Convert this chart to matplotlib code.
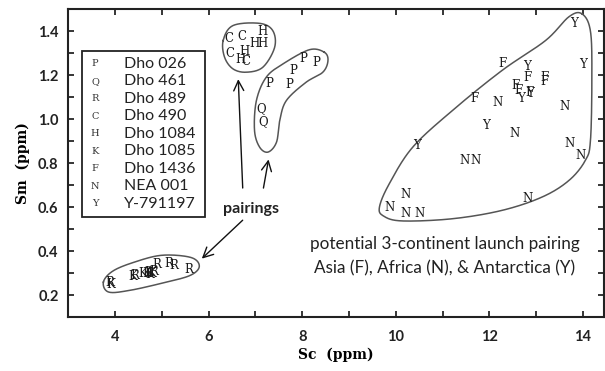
import numpy as np
import matplotlib
matplotlib.use('Agg')
import matplotlib.pyplot as plt
from matplotlib.patches import Rectangle

# ---------------- data ----------------
codes = ['P', 'Q', 'R', 'C', 'H', 'K', 'F', 'N', 'Y']
names = ['Dho 026', 'Dho 461', 'Dho 489', 'Dho 490', 'Dho 1084',
         'Dho 1085', 'Dho 1436', 'NEA 001', 'Y-791197']

P_sc = [7.30, 7.72, 7.80, 8.02, 8.31]
P_sm = [1.162, 1.160, 1.220, 1.278, 1.257]
Q_sc = [7.12, 7.17]
Q_sm = [1.047, 0.988]
R_sc = [3.89, 4.42, 4.72, 4.82, 4.90, 5.14, 5.25, 5.57]
R_sm = [0.256, 0.290, 0.305, 0.310, 0.338, 0.345, 0.337, 0.318]
C_sc = [6.43, 6.71, 6.46, 6.80]
C_sm = [1.368, 1.377, 1.300, 1.261]
H_sc = [7.14, 6.98, 7.14, 6.77, 6.68]
H_sm = [1.400, 1.343, 1.343, 1.307, 1.271]
K_sc = [3.91, 4.38, 4.60, 4.68, 4.75, 4.78]
K_sm = [0.248, 0.285, 0.300, 0.297, 0.295, 0.300]
F_sc = [11.69, 12.28, 12.81, 13.18, 13.18, 12.56, 12.62, 12.86]
F_sm = [1.093, 1.254, 1.190, 1.190, 1.170, 1.155, 1.130, 1.120]
N_sc = [12.17, 13.61, 12.54, 13.71, 13.94, 11.46, 11.71, 10.20, 9.86, 10.20, 10.50, 12.81]
N_sm = [1.078, 1.058, 0.934, 0.892, 0.836, 0.813, 0.813, 0.659, 0.598, 0.574, 0.574, 0.639]
Y_sc = [13.80, 14.01, 12.81, 12.67, 12.86, 11.92, 10.46]
Y_sm = [1.437, 1.249, 1.241, 1.093, 1.115, 0.972, 0.881]

series = {
    'P': (P_sc, P_sm), 'Q': (Q_sc, Q_sm), 'R': (R_sc, R_sm),
    'C': (C_sc, C_sm), 'H': (H_sc, H_sm), 'K': (K_sc, K_sm),
    'F': (F_sc, F_sm), 'N': (N_sc, N_sm), 'Y': (Y_sc, Y_sm),
}

# hand-drawn group outlines (annotation shapes, data coords)
outline_R = [(3.75, 0.26), (3.86, 0.215), (4.3, 0.222), (5.0, 0.255), (5.6, 0.29),
             (5.8, 0.332), (5.62, 0.372), (5.0, 0.382), (4.4, 0.35), (3.95, 0.31)]
outline_CH = [(6.31, 1.358), (6.52, 1.426), (7.09, 1.436), (7.37, 1.403), (7.41, 1.327),
              (7.16, 1.237), (6.81, 1.214), (6.52, 1.229), (6.34, 1.282)]
outline_PQ = [(8.47, 1.305), (8.15, 1.316), (7.59, 1.252), (7.23, 1.191), (7.02, 1.085),
              (6.98, 0.949), (7.09, 0.873), (7.27, 0.851), (7.45, 0.896), (7.52, 0.995),
              (7.66, 1.085), (8.08, 1.168), (8.44, 1.214), (8.55, 1.267)]
outline_big = [(13.98, 1.479), (14.16, 1.40), (14.19, 1.19), (14.16, 0.904), (14.05, 0.813),
               (13.70, 0.722), (13.13, 0.647), (12.27, 0.586), (11.21, 0.548), (10.14, 0.538),
               (9.74, 0.560), (9.65, 0.601), (9.86, 0.707), (10.36, 0.873), (11.21, 1.040),
               (12.27, 1.222), (13.20, 1.358), (13.70, 1.466)]


def closed_spline(pts, n=30):
    p = np.asarray(pts, float)
    m = len(p)
    out = []
    for i in range(m):
        p0, p1, p2, p3 = p[(i - 1) % m], p[i], p[(i + 1) % m], p[(i + 2) % m]
        t = np.linspace(0, 1, n, endpoint=False)[:, None]
        out.append(0.5 * ((2 * p1) + (-p0 + p2) * t + (2 * p0 - 5 * p1 + 4 * p2 - p3) * t ** 2
                          + (-p0 + 3 * p1 - 3 * p2 + p3) * t ** 3))
    out = np.vstack(out)
    return np.vstack([out, out[:1]])


# ---------------- figure ----------------
fig = plt.figure(figsize=(6.05, 3.71), dpi=100)
ax = fig.add_axes([0.1129, 0.1447, 0.8855, 0.8303])
ax.set_xlim(3.0, 14.45)
ax.set_ylim(0.10, 1.50)

sans = ['Lato', 'DejaVu Sans']
serif = ['DejaVu Serif']

for code, (xs, ys) in series.items():
    for x, y in zip(xs, ys):
        ax.text(x, y, code, ha='center', va='center', fontsize=8.5,
                family=serif, color='#1a1a1a')

for ol in (outline_R, outline_CH, outline_PQ, outline_big):
    c = closed_spline(ol)
    ax.plot(c[:, 0], c[:, 1], color='#555555', lw=1.1)

# arrows from "pairings"
ax.text(6.91, 0.594, 'pairings', ha='center', va='center', fontsize=11.5,
        family=sans, fontweight='bold', color='#222222')
arrow_kw = dict(arrowstyle='->', color='#111111', lw=1.0, mutation_scale=18)
ax.annotate('', xy=(6.63, 1.195), xytext=(6.73, 0.675), arrowprops=arrow_kw)
ax.annotate('', xy=(7.29, 0.83), xytext=(7.16, 0.675), arrowprops=arrow_kw)
ax.annotate('', xy=(5.81, 0.358), xytext=(6.77, 0.55), arrowprops=arrow_kw)

ax.text(11.05, 0.432, 'potential 3-continent launch pairing', ha='center', va='center',
        fontsize=12.3, family=sans, color='#222222')
ax.text(11.05, 0.323, 'Asia (F), Africa (N), & Antarctica (Y)', ha='center', va='center',
        fontsize=12.3, family=sans, color='#222222')

# legend box
ax.add_patch(Rectangle((0.025, 0.327), 0.23, 0.539, transform=ax.transAxes,
                       fill=False, lw=1.3, ec='#222222'))
for i, (code, name) in enumerate(zip(codes, names)):
    yy = 0.8227 - i * 0.0568
    ax.text(0.0498, yy, code, transform=ax.transAxes, ha='center', va='center',
            fontsize=7, family=serif, color='#333333')
    ax.text(0.1032, yy, name, transform=ax.transAxes, ha='left', va='center',
            fontsize=11.5, family=sans, color='#222222')

# axes styling
ax.set_xticks([4, 6, 8, 10, 12, 14])
ax.set_xticks(np.arange(3, 15, 1), minor=True)
ax.set_yticks([0.2, 0.4, 0.6, 0.8, 1.0, 1.2, 1.4])
ax.set_yticks(np.arange(0.1, 1.5, 0.1), minor=True)
ax.set_yticklabels(['0.2', '0.4', '0.6', '0.8', '1.0', '1.2', '1.4'])
ax.tick_params(which='both', direction='in', top=True, right=True, length=4, width=1.1,
               labelsize=10.5)
ax.tick_params(axis='x', pad=9)
ax.tick_params(axis='y', pad=7)
for lab in ax.get_xticklabels() + ax.get_yticklabels():
    lab.set_family(sans)
    lab.set_fontweight('bold')
    lab.set_color('#222222')
for s in ax.spines.values():
    s.set_linewidth(1.5)
    s.set_color('#222222')

ax.set_xlabel('Sc  (ppm)', family=serif, fontweight='bold', fontsize=10, labelpad=3)
ax.set_ylabel('Sm  (ppm)', family=serif, fontweight='bold', fontsize=10, labelpad=6)

fig.savefig('out.png', dpi=100)
